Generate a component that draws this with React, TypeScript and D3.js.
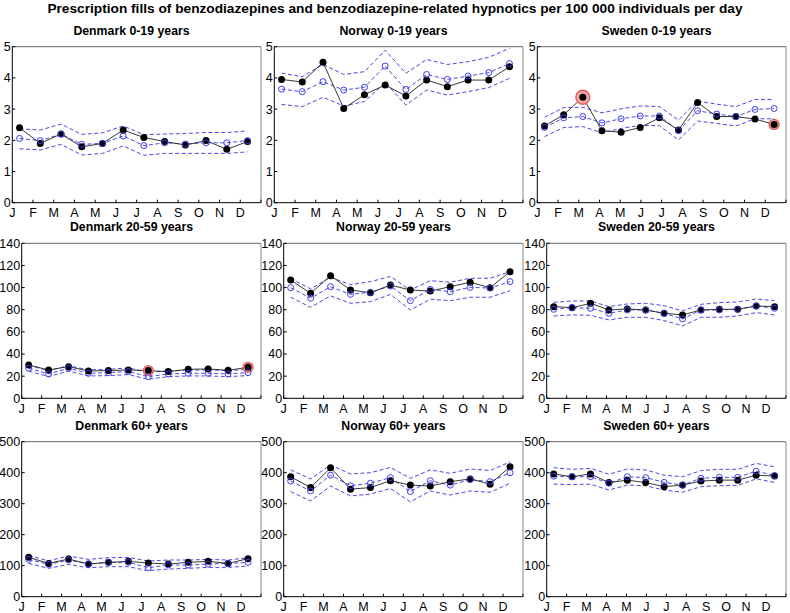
import * as d3 from "d3";

const months = ["J", "F", "M", "A", "M", "J", "J", "A", "S", "O", "N", "D"];

// Denmark 0-19
const dk019Obs = [2.4, 1.9, 2.2, 1.79, 1.9, 2.33, 2.09, 1.96, 1.85, 1.99, 1.71, 1.96];
const dk019Pred = [2.06, 1.99, 2.2, 1.87, 1.9, 2.14, 1.83, 1.92, 1.88, 1.92, 1.92, 1.99];
const dk019Hi = [2.37, 2.33, 2.52, 2.19, 2.24, 2.46, 2.18, 2.2, 2.22, 2.25, 2.25, 2.3];
const dk019Lo = [1.73, 1.69, 1.87, 1.53, 1.58, 1.82, 1.52, 1.58, 1.58, 1.58, 1.58, 1.63];

// Norway 0-19
const no019Obs = [3.95, 3.87, 4.5, 3.02, 3.46, 3.77, 3.42, 3.93, 3.72, 3.93, 3.93, 4.36];
const no019Pred = [3.64, 3.56, 3.88, 3.61, 3.7, 4.38, 3.63, 4.11, 3.95, 4.06, 4.17, 4.46];
const no019Hi = [4.15, 4.04, 4.43, 4.11, 4.2, 4.89, 4.15, 4.59, 4.43, 4.52, 4.66, 4.95];
const no019Lo = [3.15, 3.08, 3.38, 3.1, 3.24, 3.85, 3.13, 3.61, 3.45, 3.56, 3.69, 3.99];

// Sweden 0-19 (13 four-week periods)
const se019Obs = [2.46, 2.82, 3.38, 2.31, 2.26, 2.41, 2.72, 2.33, 3.21, 2.76, 2.76, 2.68, 2.51];
const se019Pred = [2.41, 2.72, 2.76, 2.56, 2.69, 2.78, 2.78, 2.31, 2.95, 2.84, 2.76, 2.99, 3.02];
const se019Hi = [2.74, 3.05, 3.06, 2.88, 3.01, 3.1, 3.08, 2.65, 3.26, 3.16, 3.08, 3.31, 3.31];
const se019Lo = [2.12, 2.41, 2.44, 2.24, 2.38, 2.48, 2.47, 2.01, 2.62, 2.54, 2.46, 2.69, 2.69];

// Denmark 20-59
const dk2059Obs = [30.1, 25.6, 28.6, 24.7, 25, 25.6, 25, 24.1, 26.2, 26.5, 25.3, 28];
const dk2059Pred = [27.1, 22, 27.1, 22.6, 23.2, 24.1, 19.6, 22, 22.6, 22.6, 22, 23.2];
const dk2059Hi = [29.5, 25, 29.5, 25.6, 26.2, 27.4, 23.5, 24.7, 25.6, 25.6, 25, 26.2];
const dk2059Lo = [24.7, 19.6, 24.7, 20.2, 20.5, 21.4, 17.2, 19.6, 20.2, 20.2, 19.6, 20.5];

// Norway 20-59
const no2059Obs = [106.9, 94.8, 110.8, 97.8, 95.4, 102.3, 97.8, 96.9, 100.8, 104.8, 99.9, 114.4];
const no2059Pred = [99.9, 90.4, 100.8, 93.9, 95.7, 101.4, 88.2, 98.4, 96.3, 100.2, 99.6, 105.4];
const no2059Hi = [108.4, 98.8, 109.3, 102.6, 105.4, 110, 97.8, 106.3, 104.8, 108.4, 108.4, 114.4];
const no2059Lo = [91.3, 82.2, 92.5, 85.8, 87.3, 93.9, 79.8, 89.5, 88.2, 91.3, 91.3, 97.2];

// Sweden 20-59
const se2059Obs = [82.8, 81.9, 85.8, 79.8, 80.7, 79.8, 76.8, 75.3, 79.8, 80.4, 80.4, 83.4, 82.8];
const se2059Pred = [80.4, 81.9, 81.3, 76.8, 79.8, 79.8, 76.8, 71.7, 79.8, 79.8, 80.4, 83.4, 81.3];
const se2059Hi = [86.7, 87.9, 87.9, 82.8, 85.2, 85.8, 83.7, 78.9, 84.9, 86.4, 87, 89.7, 88.2];
const se2059Lo = [74.4, 75.3, 75, 70.8, 73.2, 73.2, 70.2, 65.4, 73.2, 73.2, 74.4, 77.4, 75.3];

// Denmark 60+
const dk60Obs = [126.9, 107.5, 121.5, 105.4, 110.8, 114, 108.6, 105.4, 110.8, 114, 107.5, 122.6];
const dk60Pred = [120.4, 104.3, 118.3, 105.4, 110.8, 110.8, 93.5, 102.2, 102.2, 105.4, 107.5, 110.8];
const dk60Hi = [132.3, 116.1, 131.2, 120.4, 125.8, 126.9, 115.1, 118.3, 118.3, 120.4, 118.3, 125.8];
const dk60Lo = [107.5, 91.4, 104.3, 93.5, 96.8, 96.8, 83.9, 89.2, 91.4, 94.6, 94.6, 98.9];

// Norway 60+
const no60Obs = [387, 352, 416, 347, 352, 374, 360, 357, 371, 380, 363, 419];
const no60Pred = [373, 341, 392, 358, 366, 384, 339, 374, 360, 378, 371, 400];
const no60Hi = [409, 380, 425, 396, 400, 417, 382, 409, 398, 412, 407, 435];
const no60Lo = [339, 309, 357, 325, 331, 349, 306, 341, 328, 341, 337, 366];

// Sweden 60+
const se60Obs = [396, 387, 396, 368, 376, 368, 355, 360, 373, 376, 376, 392, 389];
const se60Pred = [389, 387, 387, 366, 387, 384, 369, 360, 382, 385, 385, 405, 391];
const se60Hi = [416, 411, 414, 395, 412, 409, 392, 387, 407, 411, 411, 430, 419];
const se60Lo = [363, 362, 363, 344, 360, 358, 344, 337, 355, 358, 359, 380, 369];

const W = 790;
const H = 613;
const FONT = "'Liberation Sans', Arial, Helvetica, sans-serif";
const BLUE = "#3d3df0";
const DASH = "#4a4ae8";

type Row = { top: number; bottom: number; pad: number; yMax: number; yTicks: number[] };
const rows: Row[] = [
  { top: 46.7, bottom: 202.7, pad: 12.3, yMax: 5, yTicks: [0, 1, 2, 3, 4, 5] },
  { top: 243.3, bottom: 398.3, pad: 21.7, yMax: 140, yTicks: [0, 20, 40, 60, 80, 100, 120, 140] },
  { top: 441.7, bottom: 596.7, pad: 21.7, yMax: 500, yTicks: [0, 100, 200, 300, 400, 500] },
];
const cellX = [0, 262, 525];

type Panel = {
  title: string;
  row: number;
  col: number;
  obs: number[];
  pred: number[];
  hi: number[];
  lo: number[];
  marks?: { i: number; r: number }[];
};

const panels: Panel[] = [
  { title: "Denmark 0-19 years", row: 0, col: 0, obs: dk019Obs, pred: dk019Pred, hi: dk019Hi, lo: dk019Lo },
  { title: "Norway 0-19 years", row: 0, col: 1, obs: no019Obs, pred: no019Pred, hi: no019Hi, lo: no019Lo },
  {
    title: "Sweden 0-19 years", row: 0, col: 2, obs: se019Obs, pred: se019Pred, hi: se019Hi, lo: se019Lo,
    marks: [{ i: 2, r: 7 }, { i: 12, r: 5 }],
  },
  {
    title: "Denmark 20-59 years", row: 1, col: 0, obs: dk2059Obs, pred: dk2059Pred, hi: dk2059Hi, lo: dk2059Lo,
    marks: [{ i: 6, r: 5 }, { i: 11, r: 5 }],
  },
  { title: "Norway 20-59 years", row: 1, col: 1, obs: no2059Obs, pred: no2059Pred, hi: no2059Hi, lo: no2059Lo },
  { title: "Sweden 20-59 years", row: 1, col: 2, obs: se2059Obs, pred: se2059Pred, hi: se2059Hi, lo: se2059Lo },
  { title: "Denmark 60+ years", row: 2, col: 0, obs: dk60Obs, pred: dk60Pred, hi: dk60Hi, lo: dk60Lo },
  { title: "Norway 60+ years", row: 2, col: 1, obs: no60Obs, pred: no60Pred, hi: no60Hi, lo: no60Lo },
  { title: "Sweden 60+ years", row: 2, col: 2, obs: se60Obs, pred: se60Pred, hi: se60Hi, lo: se60Lo },
];

const PanelView = ({ p }: { p: Panel }) => {
  const r = rows[p.row];
  const cx = cellX[p.col];
  const left = cx + r.pad;
  const right = cx + 261;
  const x = d3.scaleLinear().domain([0, 12]).range([left, right]);
  const y = d3.scaleLinear().domain([0, r.yMax]).range([r.bottom, r.top]);
  const n = p.obs.length;
  // monthly series (12) or four-week periods (13) spread across the year
  const px = (i: number) => x((i * 12) / n + 0.35);
  const line = d3
    .line<number>()
    .x((_, i) => px(i))
    .y((d) => y(d));

  return (
    <g>
      <text x={cx + 131.5} y={r.top - 12} textAnchor="middle" fontWeight="bold" fontSize={12.3}>
        {p.title}
      </text>
      {/* frame */}
      <line x1={left} x2={right} y1={r.top} y2={r.top} stroke="#666" />
      <line x1={right} x2={right} y1={r.top} y2={r.bottom} stroke="#888" />
      <line x1={left} x2={left} y1={r.top} y2={r.bottom} stroke="#000" />
      <line x1={left} x2={right} y1={r.bottom} y2={r.bottom} stroke="#000" />
      {r.yTicks.map((t) => (
        <g key={"y" + t}>
          <line x1={left} x2={left + 3} y1={y(t)} y2={y(t)} stroke="#000" />
          <text x={left - 1.5} y={y(t) + 4.4} textAnchor="end" fontSize={12.5}>
            {t}
          </text>
        </g>
      ))}
      {d3.range(13).map((t) => (
        <line key={"xt" + t} x1={x(t)} x2={x(t)} y1={r.bottom} y2={r.bottom - 3} stroke="#000" />
      ))}
      {months.map((m, i) => (
        <text key={"xl" + i} x={x(i)} y={r.bottom + 14.5} textAnchor="middle" fontSize={12.5}>
          {m}
        </text>
      ))}
      {[p.hi, p.lo, p.pred].map((s, k) => (
        <g key={"band" + k}>
          <path
            d={line(s) ?? ""}
            fill="none"
            stroke="#efe8a8"
            strokeOpacity={0.7}
            strokeWidth={1}
            strokeDasharray="1,2"
            transform="translate(0,1.6)"
          />
          <path d={line(s) ?? ""} fill="none" stroke={DASH} strokeWidth={1} strokeDasharray="4,2.5" />
        </g>
      ))}
      <path d={line(p.obs) ?? ""} fill="none" stroke="#222" strokeWidth={0.9} />
      {(p.marks ?? []).map((m) => (
        <circle
          key={"m" + m.i}
          cx={px(m.i)}
          cy={y(p.obs[m.i])}
          r={m.r}
          fill="#f2a3a3"
          stroke="#e35b5b"
          strokeWidth={1.3}
        />
      ))}
      {p.obs.map((v, i) => (
        <circle key={"o" + i} cx={px(i)} cy={y(v)} r={3.5} fill="#000" />
      ))}
      {p.pred.map((v, i) => (
        <circle key={"p" + i} cx={px(i)} cy={y(v)} r={3} fill="none" stroke={BLUE} strokeWidth={1} />
      ))}
    </g>
  );
};

export default function App() {
  return (
    <svg
      width={W}
      height={H}
      viewBox={`0 0 ${W} ${H}`}
      style={{ position: "absolute", left: 0, top: 0, background: "#fff" }}
      fontFamily={FONT}
    >
      <rect width={W} height={H} fill="#fff" />
      <text x={W / 2} y={12.5} textAnchor="middle" fontWeight="bold" fontSize={13.7}>
        Prescription fills of benzodiazepines and benzodiazepine-related hypnotics per 100 000 individuals per day
      </text>
      {panels.map((p) => (
        <PanelView key={p.title} p={p} />
      ))}
    </svg>
  );
}
